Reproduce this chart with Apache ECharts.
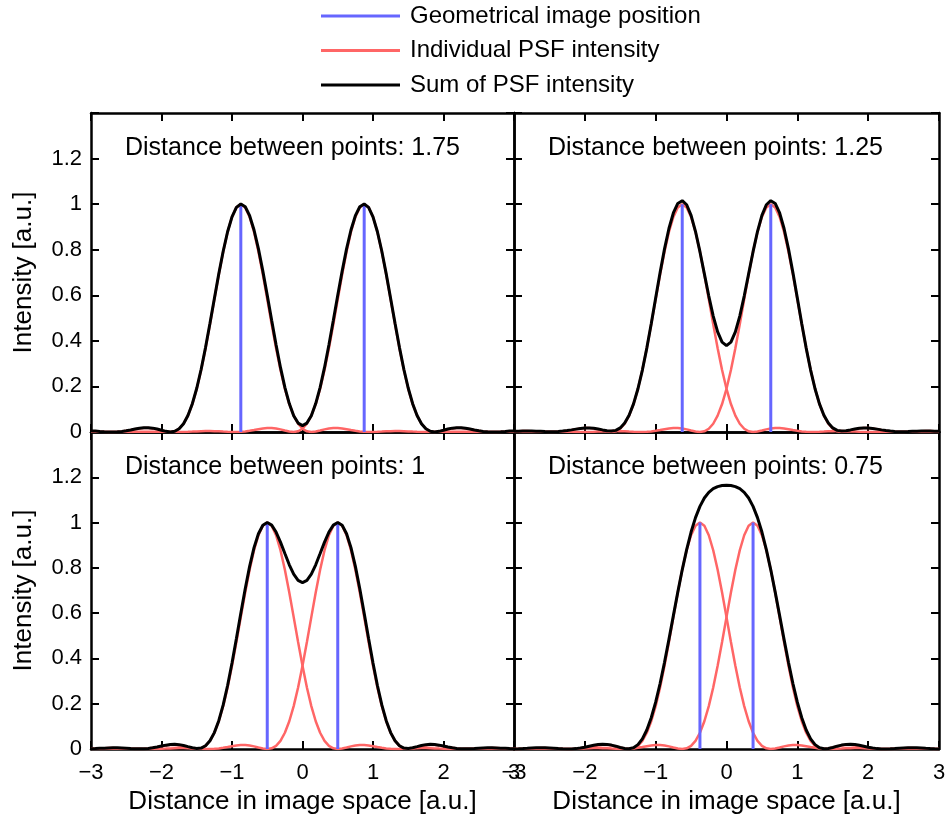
<!DOCTYPE html>
<html>
<head>
<meta charset="utf-8">
<title>Resolution of two point sources</title>
<script src="https://cdn.jsdelivr.net/npm/echarts@6/dist/echarts.min.js"></script>
<style>
  html, body { margin: 0; padding: 0; background: #ffffff; }
  #chart { width: 949px; height: 821px; }
</style>
</head>
<body>
<div id="chart"></div>
<script>
// Separation of the two image points in each panel:
// top-left, top-right, bottom-left, bottom-right.
const separations = [1.75, 1.25, 1, 0.75];
const panelTitles = [
  'Distance between points: 1.75',
  'Distance between points: 1.25',
  'Distance between points: 1',
  'Distance between points: 0.75'
];

// Radial intensity profile of one point spread function (Airy pattern),
// sampled every PROFILE_STEP units away from the geometrical image point.
const PROFILE_STEP = 0.0625;
const psfProfile = [
  1.0000, 0.9858, 0.9440, 0.8777, 0.7914, 0.6908, 0.5825, 0.4727,
  0.3675, 0.2719, 0.1895, 0.1226, 0.0717, 0.0361, 0.0141, 0.0030,
  0.0000, 0.0021, 0.0066, 0.0115, 0.0153, 0.0173, 0.0172, 0.0153,
  0.0123, 0.0087, 0.0053, 0.0026, 0.0008, 0.0000, 0.0002, 0.0010,
  0.0020, 0.0031, 0.0038, 0.0042, 0.0040, 0.0034, 0.0026, 0.0017,
  0.0009, 0.0003, 0.0000, 0.0000, 0.0003, 0.0007, 0.0011, 0.0014,
  0.0016, 0.0016, 0.0014, 0.0011, 0.0008, 0.0004, 0.0002, 0.0000,
  0.0000, 0.0001, 0.0003, 0.0005, 0.0006, 0.0008, 0.0008, 0.0007,
  0.0006
];

// Axis ranges and tick labels
const X_MIN = -3, X_MAX = 3, X_STEP = 1;
const Y_MIN = 0, Y_MAX = 1.4, Y_STEP = 0.2;
const xTickLabels = ['\u22123', '\u22122', '\u22121', '0', '1', '2', '3'];
const yTickLabels = ['0', '0.2', '0.4', '0.6', '0.8', '1', '1.2'];

const legendNames = ['Geometrical image position', 'Individual PSF intensity', 'Sum of PSF intensity'];
const xAxisTitle = 'Distance in image space [a.u.]';
const yAxisTitle = 'Intensity [a.u.]';

const BLUE = '#6666ff';
const RED = '#ff6666';
const BLACK = '#000000';
const FONT = '"Liberation Sans", Arial, Helvetica, sans-serif';

// Sample positions along the image axis, on the same spacing as the profile
const xs = [];
for (let i = 0; Math.round(X_MIN / PROFILE_STEP) + i <= Math.round(X_MAX / PROFILE_STEP); i++) {
  xs.push(X_MIN + i * PROFILE_STEP);
}
// Intensity of one PSF centred at c, looked up from the sampled profile
function psfAt(x, c) {
  const k = Math.round(Math.abs(x - c) / PROFILE_STEP);
  return k < psfProfile.length ? psfProfile[k] : 0;
}

const gridBoxes = [
  { left: 91,  top: 113, width: 423, height: 319 },
  { left: 514, top: 113, width: 425, height: 319 },
  { left: 91,  top: 432, width: 423, height: 317 },
  { left: 514, top: 432, width: 425, height: 317 }
];

const axisLine = { show: true, onZero: false, lineStyle: { color: BLACK, width: 2.5 } };
const axisTick = { show: true, inside: true, length: 8, lineStyle: { color: BLACK, width: 2 } };

const grid = [], xAxis = [], yAxis = [], series = [], title = [];

separations.forEach(function (d, p) {
  const isBottom = p >= 2;
  const isLeft = p % 2 === 0;
  grid.push(Object.assign({ containLabel: false }, gridBoxes[p]));

  const xBase = {
    type: 'value', gridIndex: p, min: X_MIN, max: X_MAX, interval: X_STEP,
    axisLine: axisLine, axisTick: axisTick, splitLine: { show: false }
  };
  xAxis.push(Object.assign({}, xBase, {
    position: 'bottom',
    name: isBottom ? xAxisTitle : '',
    nameLocation: 'middle', nameGap: 40,
    nameTextStyle: { fontFamily: FONT, fontSize: 26, color: BLACK },
    axisLabel: {
      show: isBottom, margin: 13, fontFamily: FONT, fontSize: 22, color: BLACK,
      formatter: function (v) { return xTickLabels[Math.round((v - X_MIN) / X_STEP)]; }
    }
  }));
  xAxis.push(Object.assign({}, xBase, { position: 'top', axisLabel: { show: false } }));

  const yBase = {
    type: 'value', gridIndex: p, min: Y_MIN, max: Y_MAX, interval: Y_STEP,
    axisLine: axisLine, axisTick: axisTick, splitLine: { show: false }
  };
  yAxis.push(Object.assign({}, yBase, {
    position: 'left',
    name: isLeft ? yAxisTitle : '',
    nameLocation: 'middle', nameGap: 54, nameRotate: 90,
    nameTextStyle: { fontFamily: FONT, fontSize: 26, color: BLACK },
    axisLabel: {
      show: isLeft, margin: 9, fontFamily: FONT, fontSize: 22, color: BLACK,
      formatter: function (v) { return yTickLabels[Math.round((v - Y_MIN) / Y_STEP)] || ''; }
    }
  }));
  yAxis.push(Object.assign({}, yBase, { position: 'right', axisLabel: { show: false } }));

  const xi = 2 * p, yi = 2 * p;
  const centres = [-d / 2, d / 2];

  // Individual PSFs
  centres.forEach(function (c) {
    series.push({
      type: 'line', name: legendNames[1], xAxisIndex: xi, yAxisIndex: yi,
      data: xs.map(function (x) { return [x, psfAt(x, c)]; }),
      symbol: 'none', z: 2, clip: true,
      lineStyle: { color: RED, width: 2.5 }, itemStyle: { color: RED }
    });
  });
  // Geometrical image positions
  centres.forEach(function (c) {
    series.push({
      type: 'line', name: legendNames[0], xAxisIndex: xi, yAxisIndex: yi,
      data: [[c, 0], [c, psfProfile[0]]],
      symbol: 'none', z: 3,
      lineStyle: { color: BLUE, width: 3 }, itemStyle: { color: BLUE }
    });
  });
  // Sum of both PSFs
  series.push({
    type: 'line', name: legendNames[2], xAxisIndex: xi, yAxisIndex: yi,
    data: xs.map(function (x) { return [x, psfAt(x, centres[0]) + psfAt(x, centres[1])]; }),
    symbol: 'none', z: 4, clip: true,
    lineStyle: { color: BLACK, width: 3 }, itemStyle: { color: BLACK }
  });

  title.push({
    text: panelTitles[p],
    left: gridBoxes[p].left + 34, top: gridBoxes[p].top + 23, padding: 0,
    textStyle: { fontFamily: FONT, fontSize: 25, fontWeight: 'normal', color: BLACK }
  });
});

const chart = echarts.init(document.getElementById('chart'), null, { renderer: 'canvas' });
chart.setOption({
  animation: false,
  backgroundColor: '#ffffff',
  title: title,
  legend: {
    data: legendNames, orient: 'vertical', left: 321, top: 4, padding: 0,
    icon: 'rect', itemWidth: 79, itemHeight: 3, itemGap: 10.5,
    selectedMode: false,
    textStyle: { fontFamily: FONT, fontSize: 24, color: BLACK, padding: [0, 0, 0, 5] }
  },
  grid: grid,
  xAxis: xAxis,
  yAxis: yAxis,
  series: series
});
</script>
</body>
</html>
